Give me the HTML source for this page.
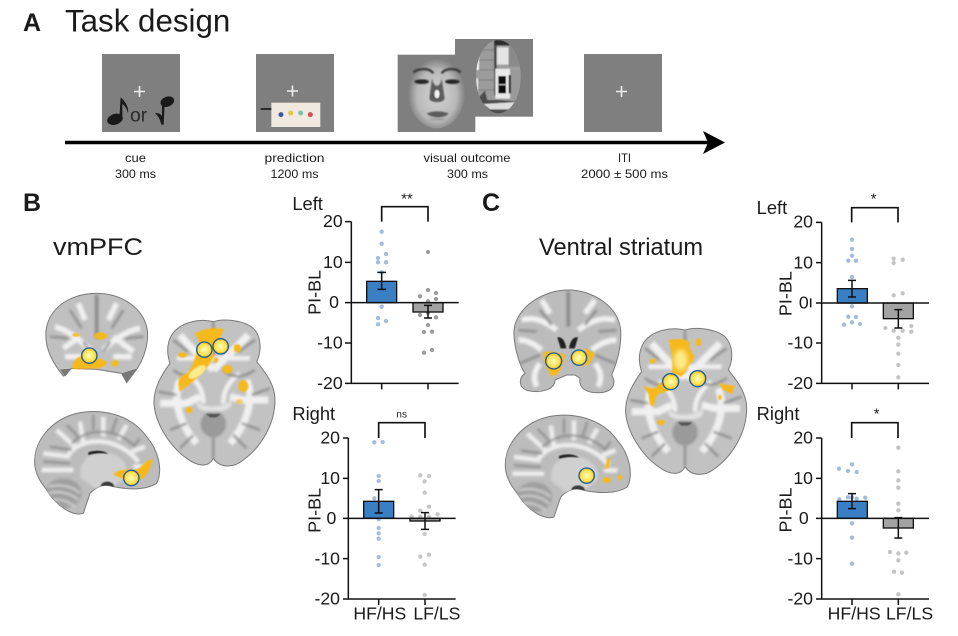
<!DOCTYPE html>
<html><head><meta charset="utf-8"><style>
html,body{margin:0;padding:0;background:#fff}
svg{display:block}
text{font-family:"Liberation Sans",sans-serif;fill:#1a1a1a}
</style></head><body>
<svg width="958" height="636" viewBox="0 0 958 636" xmlns="http://www.w3.org/2000/svg">
<defs>
<filter id="b1" x="-20%" y="-20%" width="140%" height="140%"><feGaussianBlur stdDeviation="4"/></filter>
<filter id="b2" x="-20%" y="-20%" width="140%" height="140%"><feGaussianBlur stdDeviation="7"/></filter>
<filter id="b3" x="-30%" y="-30%" width="160%" height="160%"><feGaussianBlur stdDeviation="1.800"/></filter>
<filter id="b4" x="-30%" y="-30%" width="160%" height="160%"><feGaussianBlur stdDeviation="2.500"/></filter>
<radialGradient id="fg" cx=".5" cy=".55"><stop offset="0" stop-color="#d4d4d4"/><stop offset=".7" stop-color="#b8b8b8"/><stop offset=".92" stop-color="#8e8e8e"/><stop offset="1" stop-color="#7f7f7f"/></radialGradient>
<radialGradient id="yy"><stop offset="0" stop-color="#fffbc0"/><stop offset=".7" stop-color="#fbe351"/><stop offset="1" stop-color="#f6c02a"/></radialGradient>
<clipPath id="hc"><ellipse cx="385" cy="170" rx="67" ry="110"/></clipPath>

<clipPath id="axc"><path d="M640 125C600 115 540 125 515 165C495 200 505 235 510 250C480 290 460 330 462 370C465 430 510 500 560 535C590 558 625 565 640 535C660 565 700 565 730 540C785 500 825 430 825 360C825 310 790 270 770 245C785 215 785 170 760 145C730 120 670 115 640 125Z"/></clipPath>
<clipPath id="sgc"><path d="M105 560C95 490 150 420 230 400C300 385 390 400 440 470C475 510 490 570 470 610C440 630 390 630 340 620C310 610 290 620 270 640L250 700C220 710 170 680 140 630C125 610 110 590 105 560Z"/></clipPath>

<g id="axial">
<path d="M640 125C600 115 540 125 515 165C495 200 505 235 510 250C480 290 460 330 462 370C465 430 510 500 560 535C590 558 625 565 640 535C660 565 700 565 730 540C785 500 825 430 825 360C825 310 790 270 770 245C785 215 785 170 760 145C730 120 670 115 640 125Z" fill="#c2c2c2" stroke="#7a7a7a" stroke-width="3"/>
<g clip-path="url(#axc)"><g filter="url(#b1)">
<g fill="none" stroke="#f0f0f0" stroke-width="22">
<path d="M640 270C590 220 560 190 540 165"/><path d="M640 270C690 220 720 190 745 165"/>
<path d="M540 300C520 350 530 420 590 490"/><path d="M740 300C760 350 750 420 690 490"/>
<path d="M480 370H560L600 350"/><path d="M805 360H730L690 350"/>
<path d="M530 235H750" stroke-width="14"/>
<path d="M560 280C590 300 610 330 610 370M720 280C690 300 670 330 670 370" stroke-width="14"/>
</g>
<g fill="none" stroke="#8c8c8c" stroke-width="7">
<path d="M640 125V230"/><path d="M640 535V470"/><path d="M520 270C560 300 590 290 610 270"/><path d="M765 270C720 300 690 290 670 270"/>
<path d="M475 335L530 345"/><path d="M810 325L755 345"/><path d="M510 450L560 430"/><path d="M780 450L725 430"/>
<path d="M540 505L580 465"/><path d="M740 505L700 465"/><path d="M520 180L565 215"/><path d="M765 180L715 215"/>
</g>
<ellipse cx="640" cy="432" rx="38" ry="40" fill="#9a9a9a"/>
<path d="M590 365C615 385 665 385 695 360L692 382C665 400 615 400 592 382Z" fill="#e2e2e2"/>
</g>
<path d="M618 402H662L650 412H630Z" fill="#555" filter="url(#b3)"/>
</g>
</g>

<g id="sag">
<path d="M105 560C95 490 150 420 230 400C300 385 390 400 440 470C475 510 490 570 470 610C440 630 390 630 340 620C310 610 290 620 270 640L250 700C220 710 170 680 140 630C125 610 110 590 105 560Z" fill="#bcbcbc" stroke="#7a7a7a" stroke-width="3"/>
<g clip-path="url(#sgc)"><g filter="url(#b1)">
<g fill="none" stroke="#ededed" stroke-width="14">
<path d="M205 525C240 470 350 465 415 545"/><path d="M240 425L250 490"/><path d="M310 410L310 470"/><path d="M380 435L355 480"/><path d="M435 500L395 515"/><path d="M130 520L210 530"/><path d="M170 450L225 500"/><path d="M125 570L220 570"/><path d="M440 560L400 560"/>
</g>
<g fill="none" stroke="#8a8a8a" stroke-width="6">
<path d="M215 490C270 440 350 445 405 500"/><path d="M150 500L215 510"/><path d="M280 405L280 450"/><path d="M350 415L335 460"/><path d="M130 545L210 550"/><path d="M420 475L400 500"/><path d="M200 435L235 470"/>
</g>
<path d="M240 590C240 530 280 510 330 520C370 530 385 560 380 590L340 620L290 630Z" fill="#d0d0d0"/>
<ellipse cx="190" cy="640" rx="55" ry="45" fill="#a0a0a0"/>
<g fill="none" stroke="#d8d8d8" stroke-width="5"><path d="M145 620C180 610 220 620 240 640"/><path d="M145 640C180 630 215 640 235 660"/><path d="M155 660C185 655 205 665 225 680"/></g>
</g>
<path d="M265 517C285 510 310 510 325 522C300 518 285 520 265 525Z" fill="#222" filter="url(#b3)"/>
<ellipse cx="322" cy="620" rx="20" ry="15" fill="#3a3a3a" filter="url(#b3)"/>
</g>
</g>
<clipPath id="c1"><path d="M190 288C150 240 130 190 140 140C155 75 220 40 290 40C360 40 430 80 442 150C447 200 425 245 412 265L380 308L365 280L290 268L215 265Z"/></clipPath>
<clipPath id="c2"><path d="M75 280C55 250 40 190 42 150C50 80 130 30 205 30C280 30 355 80 362 150C365 200 350 250 335 285C350 310 340 335 300 338C260 340 235 325 240 295L225 285H200L165 300C165 330 120 340 85 332C55 325 55 295 75 280Z"/></clipPath>
</defs>

<rect width="958" height="636" fill="#fff"/>

<!-- Panel A -->
<text x="23" y="31" font-size="25" font-weight="bold">A</text>
<text x="65" y="31.500" font-size="31.300">Task design</text>
<rect x="102" y="54" width="78" height="78" fill="#7f7f7f"/>
<rect x="256" y="54" width="78" height="78" fill="#7f7f7f"/>
<rect x="584" y="54" width="78" height="78" fill="#7f7f7f"/>
<g stroke="#eee" stroke-width="1.600"><path d="M134 91.500H145M139.500 86V97"/><path d="M287 91H298M292.500 85.500V96.500"/><path d="M616 91.500H627M621.500 86V97"/></g>

<g transform="scale(.33333)">
<g fill="#191919">
<ellipse cx="345" cy="358" rx="24" ry="16" transform="rotate(-18 345 358)"/>
<path d="M358 352L362 292C372 300 388 320 384 340C380 322 372 316 367 312L367 355Z"/>
<ellipse cx="502" cy="305" rx="21" ry="15" transform="rotate(-20 502 305)"/>
<path d="M486 310L494 310L491 374L484 374C480 355 472 345 465 340C475 338 482 342 486 348Z"/>
</g>
<text x="390" y="365" font-size="58" style="fill:#2a2a2a">or</text>
<rect x="814" y="308" width="147" height="73" fill="#efe9e0"/>
<rect x="782" y="324" width="32" height="6" fill="#2a2a2a"/>
<circle cx="843" cy="344" r="7.500" fill="#3d5a9a"/>
<circle cx="872" cy="339" r="7.500" fill="#e3c44a"/>
<circle cx="902" cy="339" r="7.500" fill="#7fbfae"/>
<circle cx="931" cy="344" r="7.500" fill="#d0505a"/>
</g>

<g transform="translate(370,20) scale(.33333)">
<rect x="255" y="57" width="234" height="233" fill="#7f7f7f"/>
<ellipse cx="385" cy="170" rx="67" ry="110" fill="#9e9e9e"/>
<g clip-path="url(#hc)"><g filter="url(#b3)">
<rect x="318" y="60" width="60" height="200" fill="#9c9c9c"/>
<g stroke="#7c7c7c" stroke-width="3"><path d="M325 90H372M325 120H372M325 150H372M325 180H372M325 210H372"/></g>
<rect x="318" y="105" width="9" height="45" fill="#f2f2f2"/>
<rect x="318" y="175" width="6" height="40" fill="#eee"/>
<rect x="372" y="60" width="60" height="16" fill="#2e2e2e"/>
<rect x="380" y="82" width="36" height="52" fill="#e4e4e4"/>
<rect x="372" y="76" width="8" height="150" fill="#4a4a4a"/>
<rect x="416" y="80" width="36" height="60" fill="#8a8a8a"/>
<rect x="376" y="146" width="44" height="90" fill="#e9e9e9"/>
<rect x="385" y="168" width="23" height="52" fill="#111"/>
<path d="M385 194H408" stroke="#ddd" stroke-width="3"/>
<rect x="416" y="165" width="7" height="55" fill="#333"/>
<rect x="424" y="150" width="30" height="90" fill="#9a9a9a"/>
<path d="M318 240L345 212L352 240L380 240L452 245V285H318Z" fill="#4d4d4d"/>
<path d="M340 252L440 246L425 268L360 268Z" fill="#dedede"/>
</g></g>
<rect x="83" y="104" width="233" height="232" fill="#7f7f7f"/>
<ellipse cx="200" cy="215" rx="86" ry="110" fill="url(#fg)"/>
<g filter="url(#b4)">
<path d="M130 157C150 142 180 145 190 160M215 160C225 145 255 142 272 157" fill="none" stroke="#3a3a3a" stroke-width="7"/>
<ellipse cx="155" cy="185" rx="22" ry="7" fill="#262626"/>
<ellipse cx="247" cy="185" rx="22" ry="7" fill="#262626"/>
<path d="M186 175L178 235C180 250 222 250 224 235L215 175C210 205 192 205 186 175Z" fill="#5c5c5c"/>
<path d="M170 280C190 272 215 272 236 280C225 296 185 296 170 280Z" fill="#5a5a5a"/>
<path d="M180 298H222" stroke="#999" stroke-width="5"/>
</g>
<ellipse cx="201" cy="222" rx="8" ry="13" fill="#f2f2f2" filter="url(#b3)"/>
</g>

<path d="M65 142.500H710" stroke="#000" stroke-width="3.400"/>
<path d="M703 131L725 142.500L703 154L708 142.500Z" fill="#000"/>

<g font-size="12" text-anchor="middle">
<text x="135.500" y="162" textLength="21" lengthAdjust="spacingAndGlyphs">cue</text><text x="135.500" y="178" textLength="41" lengthAdjust="spacingAndGlyphs">300 ms</text>
<text x="294.500" y="162" textLength="60" lengthAdjust="spacingAndGlyphs">prediction</text><text x="294.500" y="178" textLength="48" lengthAdjust="spacingAndGlyphs">1200 ms</text>
<text x="467" y="162" textLength="87" lengthAdjust="spacingAndGlyphs">visual outcome</text><text x="467.500" y="178" textLength="41" lengthAdjust="spacingAndGlyphs">300 ms</text>
<text x="624.500" y="162" textLength="13" lengthAdjust="spacingAndGlyphs">ITI</text><text x="624.500" y="178" textLength="87" lengthAdjust="spacingAndGlyphs">2000 ± 500 ms</text>
</g>

<text x="23" y="211" font-size="25" font-weight="bold">B</text>
<text x="482" y="211" font-size="25" font-weight="bold">C</text>
<text x="53" y="255" font-size="24" textLength="90" lengthAdjust="spacingAndGlyphs">vmPFC</text>
<text x="539" y="255" font-size="24" textLength="164" lengthAdjust="spacingAndGlyphs">Ventral striatum</text>

<!-- Brains B -->
<g transform="translate(0,280) scale(.33333)">
<path d="M190 288C150 240 130 190 140 140C155 75 220 40 290 40C360 40 430 80 442 150C447 200 425 245 412 265L380 308L365 280L290 268L215 265Z" fill="#c0c0c0" stroke="#7a7a7a" stroke-width="3"/>
<g clip-path="url(#c1)"><g filter="url(#b1)">
<g fill="none" stroke="#f0f0f0" stroke-width="17">
<path d="M270 210C230 170 200 150 165 140"/><path d="M310 210C350 170 390 150 420 145"/><path d="M255 120L235 70"/><path d="M325 120L350 70"/><path d="M240 170L190 205"/><path d="M340 170L400 215"/><path d="M245 230H195"/><path d="M340 230H395"/>
</g>
<g fill="none" stroke="#8c8c8c" stroke-width="7">
<path d="M290 45V175" stroke-width="11"/><path d="M210 90L245 145"/><path d="M370 90L335 145"/><path d="M150 170L205 175"/><path d="M430 170L375 175"/><path d="M250 185L270 215M330 185L310 215"/>
</g>
</g></g>
<path d="M180 268L195 290L215 266Z" fill="#777"/><path d="M365 280L380 306L410 266Z" fill="#777"/>
<g fill="#f6b91c" filter="url(#b4)">
<path d="M215 265C220 240 235 225 250 230C275 225 300 235 320 245C322 258 300 268 280 265C260 265 230 270 215 265Z"/>
<ellipse cx="345" cy="250" rx="11" ry="10"/><ellipse cx="302" cy="168" rx="20" ry="11"/><ellipse cx="228" cy="165" rx="12" ry="5"/>
</g>
<use href="#axial"/>
<use href="#sag"/>
<g fill="#f6b91c" filter="url(#b4)">
<path d="M585 160C610 145 650 140 672 148C660 175 640 200 640 230C630 260 600 290 560 320L540 335C530 310 535 285 560 280C585 255 585 220 600 190Z"/>
<ellipse cx="712" cy="205" rx="11" ry="13"/><ellipse cx="548" cy="225" rx="14" ry="8"/><ellipse cx="682" cy="268" rx="15" ry="13"/><ellipse cx="730" cy="318" rx="15" ry="18"/><ellipse cx="567" cy="390" rx="10" ry="10"/><ellipse cx="718" cy="365" rx="11" ry="8" opacity=".6"/><ellipse cx="648" cy="240" rx="7" ry="8"/>
<ellipse cx="592" cy="276" rx="30" ry="13" fill="#fdeb8a" transform="rotate(-35 592 276)"/>
<path d="M340 585C350 565 375 570 400 570C420 575 440 530 458 540C450 570 440 590 420 600L380 600Z"/>
</g>
<g stroke="#1f5c96" stroke-width="4" fill="url(#yy)">
<circle cx="268" cy="227" r="23"/><circle cx="613" cy="209" r="23"/><circle cx="662" cy="199" r="23"/><circle cx="394" cy="594" r="23"/>
</g>
</g>

<!-- Brains C -->
<g transform="translate(500,280) scale(.33333)">
<path d="M75 280C55 250 40 190 42 150C50 80 130 30 205 30C280 30 355 80 362 150C365 200 350 250 335 285C350 310 340 335 300 338C260 340 235 325 240 295L225 285H200L165 300C165 330 120 340 85 332C55 325 55 295 75 280Z" fill="#bcbcbc" stroke="#7a7a7a" stroke-width="3"/>
<g clip-path="url(#c2)"><g filter="url(#b1)">
<g fill="none" stroke="#f0f0f0" stroke-width="17">
<path d="M170 150C130 120 100 110 65 120"/><path d="M235 150C275 120 310 110 345 120"/><path d="M150 100L125 60"/><path d="M255 100L285 60"/>
<path d="M125 210C100 190 80 180 55 180M275 210C300 190 325 180 350 180"/>
<path d="M120 250C100 275 100 295 110 320M285 250C305 275 305 295 295 320"/>
</g>
<g fill="none" stroke="#8a8a8a" stroke-width="7">
<path d="M205 35V140" stroke-width="11"/><path d="M120 90L155 135"/><path d="M290 90L255 135"/><path d="M55 150L110 155M350 150L295 155"/><path d="M60 250L120 225M345 250L285 225"/>
</g>
</g>
<path d="M172 172C185 170 195 180 199 205L182 205ZM234 172C221 170 211 180 207 205L224 205Z" fill="#222" filter="url(#b3)"/>
</g>
<use href="#axial" transform="translate(-85,25)"/>
<use href="#sag" transform="translate(-88,11)"/>
<g fill="#f6b91c" filter="url(#b4)">
<path d="M130 218C150 210 180 220 195 225C190 260 175 290 155 288C140 270 130 240 130 218Z"/>
<path d="M255 205L285 220L270 250L245 260Z"/>
<path d="M505 180C530 175 565 175 570 190C560 205 590 225 580 240C565 255 560 275 545 290L515 280C520 250 515 210 505 180Z"/>
<ellipse cx="595" cy="187" rx="9" ry="12"/><ellipse cx="458" cy="243" rx="10" ry="7"/><path d="M430 320L465 325L490 300L510 330L470 345L462 378L450 375L445 340Z"/>
<path d="M655 310L705 318L695 342L670 330Z"/><ellipse cx="660" cy="352" rx="5" ry="8"/><ellipse cx="483" cy="427" rx="12" ry="8"/>
<ellipse cx="320" cy="600" rx="13" ry="9"/><ellipse cx="360" cy="592" rx="7" ry="8"/><path d="M322 535L330 535L328 562L314 568Z"/>
</g>
<ellipse cx="542" cy="240" rx="20" ry="32" fill="#fdeb8a" filter="url(#b2)"/>
<g stroke="#1f5c96" stroke-width="4" fill="url(#yy)">
<circle cx="161" cy="243" r="24"/><circle cx="237" cy="233" r="23"/><circle cx="512" cy="305" r="24"/><circle cx="593" cy="296" r="24"/><circle cx="260" cy="587" r="23"/>
</g>
</g>

<!-- Chart B Left -->
<g transform="translate(285,190) scale(.33333)">
<text x="22" y="60" font-size="55">Left</text>
<text x="366" y="41" font-size="44" text-anchor="middle">**</text>
<path d="M290 95V50H429V95" fill="none" stroke="#111" stroke-width="5"/>
<g fill="#a3bcdc"><circle cx="290" cy="125" r="6.500"/><circle cx="290" cy="161" r="6.500"/><circle cx="303" cy="192" r="6.500"/><circle cx="279" cy="204" r="6.500"/><circle cx="279" cy="217" r="6.500"/><circle cx="303" cy="217" r="6.500"/><circle cx="290" cy="247" r="6.500"/><circle cx="290" cy="350" r="6.500"/><circle cx="279" cy="384" r="6.500"/><circle cx="279" cy="403" r="6.500"/><circle cx="303" cy="393" r="6.500"/></g>
<g fill="#9b9b9b"><circle cx="429" cy="186" r="6.500"/><circle cx="429" cy="300" r="6.500"/><circle cx="453" cy="309" r="6.500"/><circle cx="405" cy="319" r="6.500"/><circle cx="453" cy="327" r="6.500"/><circle cx="429" cy="334" r="6.500"/><circle cx="405" cy="375" r="6.500"/><circle cx="429" cy="368" r="6.500"/><circle cx="453" cy="382" r="6.500"/><circle cx="429" cy="405" r="6.500"/><circle cx="417" cy="426" r="6.500"/><circle cx="441" cy="425" r="6.500"/><circle cx="441" cy="480" r="6.500"/><circle cx="417" cy="488" r="6.500"/></g>
<rect x="245" y="274" width="90" height="64" fill="#3a7fc4" stroke="#111" stroke-width="4"/>
<rect x="384" y="338" width="90" height="28" fill="#a3a3a3" stroke="#111" stroke-width="4"/>
<path d="M199 95V580H521M180 95H199M180 217H199M180 338H521M180 459H199M180 580H199M290 580V598M429 580V598" fill="none" stroke="#111" stroke-width="4.500"/>
<path d="M290 247V298M277 247H303M277 298H303M429 346V384M417 346H441M417 384H441" fill="none" stroke="#111" stroke-width="4.500"/>
<g font-size="53" text-anchor="end"><text x="173" y="111">20</text><text x="173" y="234">10</text><text x="162" y="354">0</text><text x="173" y="476">-10</text><text x="173" y="597">-20</text></g>
<text transform="translate(107,307) rotate(-90)" font-size="54" text-anchor="middle">PI-BL</text>
</g>

<!-- Chart B Right -->
<g transform="translate(285,400) scale(.33333)">
<text x="22" y="60" font-size="55">Right</text>
<text x="350" y="53" font-size="30" text-anchor="middle">ns</text>
<path d="M281 114V68H420V114" fill="none" stroke="#111" stroke-width="5"/>
<g fill="#a8bcd8"><circle cx="268" cy="127" r="6.500"/><circle cx="293" cy="126" r="6.500"/><circle cx="281" cy="228" r="6.500"/><circle cx="281" cy="243" r="6.500"/><circle cx="268" cy="295" r="6.500"/><circle cx="281" cy="358" r="6.500"/><circle cx="281" cy="384" r="6.500"/><circle cx="281" cy="400" r="6.500"/><circle cx="281" cy="416" r="6.500"/><circle cx="281" cy="471" r="6.500"/><circle cx="281" cy="495" r="6.500"/></g>
<g fill="#c6c6c6"><circle cx="406" cy="226" r="6.500"/><circle cx="432" cy="228" r="6.500"/><circle cx="419" cy="244" r="6.500"/><circle cx="419" cy="278" r="6.500"/><circle cx="432" cy="320" r="6.500"/><circle cx="406" cy="332" r="6.500"/><circle cx="380" cy="350" r="6.500"/><circle cx="406" cy="350" r="6.500"/><circle cx="432" cy="350" r="6.500"/><circle cx="458" cy="343" r="6.500"/><circle cx="419" cy="402" r="6.500"/><circle cx="406" cy="470" r="6.500"/><circle cx="432" cy="464" r="6.500"/><circle cx="419" cy="494" r="6.500"/><circle cx="419" cy="585" r="6.500"/></g>
<rect x="236" y="304" width="90" height="51" fill="#3a7fc4" stroke="#111" stroke-width="4"/>
<rect x="375" y="355" width="90" height="8" fill="#a3a3a3" stroke="#111" stroke-width="4"/>
<path d="M190 114V597H512M174 114H190M174 235H190M174 355H512M174 476H190M174 597H190M281 597V615M420 597V615" fill="none" stroke="#111" stroke-width="4.500"/>
<path d="M281 269V339M269 269H293M269 339H293M420 338V388M408 338H432M408 388H432" fill="none" stroke="#111" stroke-width="4.500"/>
<g font-size="53" text-anchor="end"><text x="165" y="130">20</text><text x="165" y="252">10</text><text x="154" y="372">0</text><text x="165" y="493">-10</text><text x="165" y="614">-20</text></g>
<text transform="translate(107,331) rotate(-90)" font-size="54" text-anchor="middle">PI-BL</text>
<text x="205" y="658" font-size="53">HF/HS</text><text x="385" y="658" font-size="53">LF/LS</text>
</g>

<!-- Chart C Left -->
<g transform="translate(750,190) scale(.33333)">
<text x="20" y="72" font-size="55">Left</text>
<text x="371" y="41" font-size="44" text-anchor="middle">*</text>
<path d="M305 97V53H444V97" fill="none" stroke="#111" stroke-width="5"/>
<g fill="#a3bcdc"><circle cx="306" cy="149" r="6.500"/><circle cx="306" cy="177" r="6.500"/><circle cx="306" cy="197" r="6.500"/><circle cx="295" cy="212" r="6.500"/><circle cx="318" cy="212" r="6.500"/><circle cx="306" cy="261" r="6.500"/><circle cx="306" cy="349" r="6.500"/><circle cx="295" cy="380" r="6.500"/><circle cx="318" cy="381" r="6.500"/><circle cx="282" cy="404" r="6.500"/><circle cx="306" cy="397" r="6.500"/><circle cx="330" cy="402" r="6.500"/></g>
<g fill="#c4c4c4"><circle cx="431" cy="206" r="6.500"/><circle cx="458" cy="209" r="6.500"/><circle cx="431" cy="219" r="6.500"/><circle cx="458" cy="310" r="6.500"/><circle cx="431" cy="316" r="6.500"/><circle cx="406" cy="414" r="6.500"/><circle cx="431" cy="422" r="6.500"/><circle cx="458" cy="422" r="6.500"/><circle cx="484" cy="408" r="6.500"/><circle cx="484" cy="425" r="6.500"/><circle cx="445" cy="443" r="6.500"/><circle cx="445" cy="464" r="6.500"/><circle cx="445" cy="491" r="6.500"/><circle cx="445" cy="525" r="6.500"/><circle cx="445" cy="562" r="6.500"/></g>
<rect x="262" y="296" width="90" height="43" fill="#3a7fc4" stroke="#111" stroke-width="4"/>
<rect x="400" y="339" width="90" height="47" fill="#a3a3a3" stroke="#111" stroke-width="4"/>
<path d="M215 97V580H537M198 97H215M198 218H215M198 339H537M198 459H215M198 580H215M306 580V598M445 580V598M182 325V352" fill="none" stroke="#111" stroke-width="4.500"/>
<path d="M306 271V321M294 271H318M294 321H318M445 359V414M433 359H457M433 414H457" fill="none" stroke="#111" stroke-width="4.500"/>
<g font-size="53" text-anchor="end"><text x="189" y="113">20</text><text x="189" y="235">10</text><text x="176" y="355">0</text><text x="189" y="476">-10</text><text x="189" y="597">-20</text></g>
<text transform="translate(125,311) rotate(-90)" font-size="54" text-anchor="middle">PI-BL</text>
</g>

<!-- Chart C Right -->
<g transform="translate(750,400) scale(.33333)">
<text x="20" y="60" font-size="55">Right</text>
<text x="380" y="56" font-size="44" text-anchor="middle">*</text>
<path d="M305 114V68H444V114" fill="none" stroke="#111" stroke-width="5"/>
<g fill="#a3bcdc"><circle cx="306" cy="193" r="6.500"/><circle cx="267" cy="206" r="6.500"/><circle cx="294" cy="213" r="6.500"/><circle cx="320" cy="216" r="6.500"/><circle cx="268" cy="298" r="6.500"/><circle cx="294" cy="292" r="6.500"/><circle cx="306" cy="292" r="6.500"/><circle cx="320" cy="296" r="6.500"/><circle cx="346" cy="293" r="6.500"/><circle cx="306" cy="370" r="6.500"/><circle cx="306" cy="413" r="6.500"/><circle cx="306" cy="491" r="6.500"/></g>
<g fill="#c4c4c4"><circle cx="445" cy="143" r="6.500"/><circle cx="445" cy="214" r="6.500"/><circle cx="445" cy="241" r="6.500"/><circle cx="445" cy="263" r="6.500"/><circle cx="445" cy="311" r="6.500"/><circle cx="445" cy="331" r="6.500"/><circle cx="420" cy="456" r="6.500"/><circle cx="445" cy="460" r="6.500"/><circle cx="469" cy="458" r="6.500"/><circle cx="445" cy="481" r="6.500"/><circle cx="432" cy="515" r="6.500"/><circle cx="456" cy="518" r="6.500"/><circle cx="445" cy="583" r="6.500"/></g>
<rect x="262" y="304" width="90" height="51" fill="#3a7fc4" stroke="#111" stroke-width="4"/>
<rect x="400" y="355" width="90" height="29" fill="#a3a3a3" stroke="#111" stroke-width="4"/>
<path d="M215 114V597H537M198 114H215M198 235H215M198 355H537M198 476H215M198 597H215M306 597V615M445 597V615" fill="none" stroke="#111" stroke-width="4.500"/>
<path d="M306 281V326M294 281H318M294 326H318M445 353V414M433 353H457M433 414H457" fill="none" stroke="#111" stroke-width="4.500"/>
<g font-size="53" text-anchor="end"><text x="189" y="130">20</text><text x="189" y="252">10</text><text x="176" y="372">0</text><text x="189" y="493">-10</text><text x="189" y="614">-20</text></g>
<text transform="translate(125,330) rotate(-90)" font-size="54" text-anchor="middle">PI-BL</text>
<text x="233" y="658" font-size="53">HF/HS</text><text x="408" y="658" font-size="53">LF/LS</text>
</g>
</svg>
</body></html>
